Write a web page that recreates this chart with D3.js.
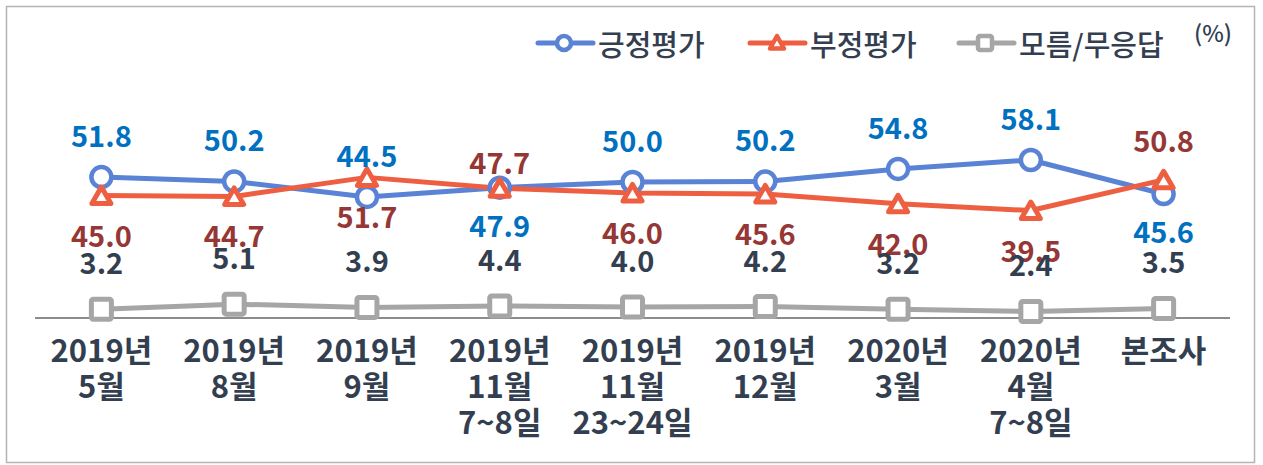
<!DOCTYPE html>
<html>
<head>
    <meta charset="utf-8">
    <title>국정수행 평가 추이</title>
</head>
<body>
<style type="text/css">
    body {
        margin: 0;
        background: #fff;
    }

    #renderer {
        width: 1263px;
        height: 465px;
        background: #fff;
        display: block;
    }

    text {
        font-family: "Noto Sans CJK KR", "Noto Sans", sans-serif;
    }
</style>
<script type="text/javascript" src="https://cdnjs.cloudflare.com/ajax/libs/d3/7.8.5/d3.min.js"></script>
<svg id="renderer"></svg>

<script type="text/javascript">
    // 조사 시점 (줄바꿈은 \n)
    var surveys = [
        '2019년\n5월', '2019년\n8월', '2019년\n9월', '2019년\n11월\n7~8일', '2019년\n11월\n23~24일',
        '2019년\n12월', '2020년\n3월', '2020년\n4월\n7~8일', '본조사'
    ];

    // 시리즈 값 (%)
    var positive = [51.8, 50.2, 44.5, 47.9, 50.0, 50.2, 54.8, 58.1, 45.6];
    var negative = [45.0, 44.7, 51.7, 47.7, 46.0, 45.6, 42.0, 39.5, 50.8];
    var unknown = [3.2, 5.1, 3.9, 4.4, 4.0, 4.2, 3.2, 2.4, 3.5];

    // 라벨을 선 위(top) / 아래(bottom) 중 어디에 쓸지
    var positiveLabelSide = ['top', 'top', 'top', 'bottom', 'top', 'top', 'top', 'top', 'bottom'];
    var negativeLabelSide = ['bottom', 'bottom', 'bottom', 'tight', 'bottom', 'bottom', 'bottom', 'bottom', 'top'];

    var root = d3.select('#renderer');

    var totalWidth = 1263;
    var totalHeight = 465;

    var axisY = 318;
    var axisLeft = 35;
    var axisRight = 1230;

    var textColor = '#333f50';

    // 바깥 테두리
    root.append('rect')
        .attr('x', 6.5)
        .attr('y', 6.5)
        .attr('width', 1248)
        .attr('height', 456)
        .attr('fill', 'none')
        .attr('stroke', '#b4b4b4')
        .attr('stroke-width', 1.5);

    var x = d3.scalePoint()
        .domain(surveys)
        .range([axisLeft, axisRight])
        .padding(0.5);

    var y = d3.scaleLinear()
        .domain([0, 100])
        .range([axisY, 46]);

    // 가로축
    root.append('line')
        .attr('x1', axisLeft)
        .attr('x2', axisRight)
        .attr('y1', axisY)
        .attr('y2', axisY)
        .attr('stroke', '#8c8c8c')
        .attr('stroke-width', 2);

    // 가로축 라벨 (여러 줄)
    var tickLabels = root.append('g')
        .selectAll('text')
        .data(surveys)
        .enter()
        .append('text')
        .attr('text-anchor', 'middle')
        .attr('font-size', 31)
        .attr('font-weight', 700)
        .attr('fill', textColor);

    tickLabels.each(function (d) {
        var lines = d.split('\n');
        var t = d3.select(this);
        for (var i = 0; i < lines.length; i++) {
            t.append('tspan')
                .attr('x', x(d))
                .attr('y', 362 + i * 36)
                .text(lines[i]);
        }
    });

    // 마커 모양
    var trianglePath = 'M0,-9.5 L9.5,7 L-9.5,7 Z';

    function drawSeries(values, color, lineWidth) {
        var line = d3.line()
            .x(function (d, i) { return x(surveys[i]); })
            .y(function (d) { return y(d); });

        root.append('path')
            .datum(values)
            .attr('d', line)
            .attr('fill', 'none')
            .attr('stroke', color)
            .attr('stroke-width', lineWidth)
            .attr('stroke-linejoin', 'round');
    }

    function drawMarkers(values, shape, color) {
        var g = root.append('g');
        values.forEach(function (v, i) {
            var cx = x(surveys[i]);
            var cy = y(v);
            if (shape === 'circle') {
                g.append('circle')
                    .attr('cx', cx)
                    .attr('cy', cy)
                    .attr('r', 10)
                    .attr('fill', '#fff')
                    .attr('stroke', color)
                    .attr('stroke-width', 4.5);
            } else if (shape === 'triangle') {
                g.append('path')
                    .attr('d', trianglePath)
                    .attr('transform', 'translate(' + cx + ',' + (cy + 1) + ')')
                    .attr('fill', '#fff')
                    .attr('stroke', color)
                    .attr('stroke-width', 5)
                    .attr('stroke-linejoin', 'round');
            } else {
                g.append('rect')
                    .attr('x', cx - 10)
                    .attr('y', cy - 10)
                    .attr('width', 20)
                    .attr('height', 20)
                    .attr('rx', 2)
                    .attr('fill', '#fff')
                    .attr('stroke', color)
                    .attr('stroke-width', 5);
            }
        });
    }

    function drawLabels(values, sides, offsets, color) {
        root.append('g')
            .selectAll('text')
            .data(values)
            .enter()
            .append('text')
            .text(function (d) { return d.toFixed(1); })
            .attr('x', function (d, i) { return x(surveys[i]); })
            .attr('y', function (d, i) { return y(d) + offsets[sides[i]]; })
            .attr('text-anchor', 'middle')
            .attr('font-size', 29)
            .attr('font-weight', 700)
            .attr('fill', color);
    }

    var blue = '#5a83d6';
    var red = '#ee5f42';
    var gray = '#a6a6a6';

    // 선 -> 마커 순서 (모름/무응답, 긍정, 부정)
    drawSeries(unknown, gray, 5);
    drawSeries(positive, blue, 5);
    drawSeries(negative, red, 5);
    drawMarkers(unknown, 'square', gray);
    drawMarkers(positive, 'circle', blue);
    drawMarkers(negative, 'triangle', red);

    // 수치 라벨
    drawLabels(positive, positiveLabelSide, {top: -30, bottom: 49}, '#0070c0');
    drawLabels(negative, negativeLabelSide, {top: -28, bottom: 51, tight: -14}, '#953735');
    drawLabels(unknown, unknown.map(function () { return 'top'; }), {top: -35}, textColor);

    // 범례
    var legendItems = [
        {name: '긍정평가', color: blue, shape: 'circle', x: 538},
        {name: '부정평가', color: red, shape: 'triangle', x: 750},
        {name: '모름/무응답', color: gray, shape: 'square', x: 959}
    ];
    var legendY = 43;

    legendItems.forEach(function (item) {
        var g = root.append('g').attr('transform', 'translate(' + item.x + ',' + legendY + ')');
        g.append('line')
            .attr('x1', 0)
            .attr('x2', 55)
            .attr('stroke', item.color)
            .attr('stroke-width', 5)
            .attr('stroke-linecap', 'round');
        if (item.shape === 'circle') {
            g.append('circle')
                .attr('cx', 26).attr('r', 7)
                .attr('fill', '#fff').attr('stroke', item.color).attr('stroke-width', 4.5);
        } else if (item.shape === 'triangle') {
            g.append('path')
                .attr('d', 'M0,-7 L7,5.5 L-7,5.5 Z')
                .attr('transform', 'translate(27,0)')
                .attr('fill', '#fff').attr('stroke', item.color).attr('stroke-width', 4.5)
                .attr('stroke-linejoin', 'round');
        } else {
            g.append('rect')
                .attr('x', 19).attr('y', -7).attr('width', 14).attr('height', 14).attr('rx', 2)
                .attr('fill', '#fff').attr('stroke', item.color).attr('stroke-width', 4.5);
        }
        g.append('text')
            .text(item.name)
            .attr('x', 60)
            .attr('y', 0)
            .attr('dominant-baseline', 'central')
            .attr('font-size', 29)
            .attr('font-weight', 500)
            .attr('fill', textColor);
    });

    root.append('text')
        .text('(%)')
        .attr('x', 1194)
        .attr('y', 42)
        .attr('font-size', 23)
        .attr('font-weight', 500)
        .attr('fill', textColor);
</script>
</body>
</html>
